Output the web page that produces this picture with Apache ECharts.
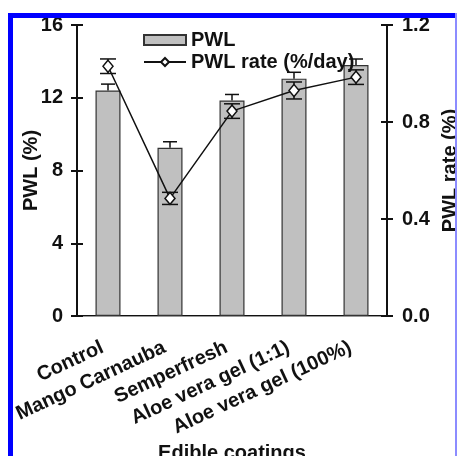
<!DOCTYPE html>
<html>
<head>
<meta charset="utf-8">
<script src="https://cdn.jsdelivr.net/npm/echarts@6/dist/echarts.min.js"></script>
<style>html,body{margin:0;padding:0;background:#fff;}#c{width:457px;height:456px;}</style>
</head>
<body>
<div id="c"></div>
<script>
var categories = ['Control', 'Mango Carnauba', 'Semperfresh', 'Aloe vera gel (1:1)', 'Aloe vera gel (100%)'];
var pwl = [12.4, 9.25, 11.85, 13.05, 13.8];
var pwlErr = [0.35, 0.33, 0.33, 0.35, 0.33];
var rate = [1.03, 0.485, 0.845, 0.93, 0.985];
var rateErr = [0.03, 0.025, 0.03, 0.035, 0.03];
var leftTicks = {min: 0, max: 16, interval: 4};
var rightTicks = {min: 0, max: 1.2, interval: 0.4};

var FONT = 'Liberation Sans, Arial, sans-serif';
var txt = {fontFamily: FONT, fontWeight: 'bold', fontSize: 20, color: '#111'};

function errItem(capHalf, upOnly) {
  return function (params, api) {
    var x = api.value(0), y = api.value(1), e = api.value(2);
    var top = api.coord([x, y + e]);
    var mid = api.coord([x, y]);
    var bot = api.coord([x, y - e]);
    var st = {stroke: '#111', lineWidth: 1.5};
    var ch = [
      {type: 'line', shape: {x1: top[0], y1: top[1], x2: upOnly ? mid[0] : bot[0], y2: upOnly ? mid[1] : bot[1]}, style: st},
      {type: 'line', shape: {x1: top[0] - capHalf, y1: top[1], x2: top[0] + capHalf, y2: top[1]}, style: st}
    ];
    if (!upOnly) ch.push({type: 'line', shape: {x1: bot[0] - capHalf, y1: bot[1], x2: bot[0] + capHalf, y2: bot[1]}, style: st});
    return {type: 'group', children: ch};
  };
}

var chart = echarts.init(document.getElementById('c'), null, {renderer: 'canvas'});
chart.setOption({
  animation: false,
  backgroundColor: '#fff',
  grid: {left: 77, right: 70, top: 25, bottom: 140, outerBoundsMode: 'none', containLabel: false},
  legend: {
    orient: 'vertical', left: 143, top: 30, itemWidth: 42, itemHeight: 10, itemGap: 2, padding: 0,
    data: [{name: 'PWL', icon: 'rect'}, {name: 'PWL rate (%/day)'}],
    textStyle: txt
  },
  xAxis: [
    {type: 'category', data: categories, position: 'bottom',
     axisLine: {lineStyle: {color: '#111', width: 2}},
     axisTick: {length: 6, lineStyle: {width: 2, color: '#111'}},
     axisLabel: Object.assign({rotate: 25, interval: 0, margin: 28, padding: [0, 6, 0, 0]}, txt),
     name: 'Edible coatings', nameLocation: 'middle', nameGap: 125, nameTextStyle: txt},
    {type: 'category', data: categories, position: 'bottom',
     axisLine: {show: false},
     axisTick: {inside: true, length: 6, lineStyle: {width: 2, color: '#111'}},
     axisLabel: {show: false}},
    {type: 'category', data: categories, position: 'top',
     axisLine: {lineStyle: {color: '#999', width: 1}},
     axisTick: {show: false}, axisLabel: {show: false}}
  ],
  yAxis: [
    {type: 'value', position: 'left', min: leftTicks.min, max: leftTicks.max, interval: leftTicks.interval,
     axisLine: {show: true, lineStyle: {color: '#111', width: 2}},
     axisTick: {show: true, length: 6, lineStyle: {width: 2, color: '#111'}},
     axisLabel: Object.assign({margin: 14}, txt),
     splitLine: {show: false},
     name: 'PWL (%)', nameLocation: 'middle', nameGap: 36, nameRotate: 90, nameMoveOverlap: false, nameTextStyle: txt},
    {type: 'value', position: 'right', min: rightTicks.min, max: rightTicks.max, interval: rightTicks.interval,
     axisLine: {show: true, lineStyle: {color: '#111', width: 2}},
     axisTick: {show: true, length: 6, lineStyle: {width: 2, color: '#111'}},
     axisLabel: Object.assign({margin: 15, formatter: function (v) { return v.toFixed(1); }}, txt),
     splitLine: {show: false},
     name: 'PWL rate (%)', nameLocation: 'middle', nameGap: 46, nameRotate: 90, nameTextStyle: txt},
    {type: 'value', position: 'left', min: leftTicks.min, max: leftTicks.max, interval: leftTicks.interval,
     axisLine: {show: false}, axisTick: {show: true, inside: true, length: 6, lineStyle: {width: 2, color: '#111'}},
     axisLabel: {show: false}, splitLine: {show: false}},
    {type: 'value', position: 'right', min: rightTicks.min, max: rightTicks.max, interval: rightTicks.interval,
     axisLine: {show: false}, axisTick: {show: true, inside: true, length: 6, lineStyle: {width: 2, color: '#111'}},
     axisLabel: {show: false}, splitLine: {show: false}}
  ],
  series: [
    {name: 'PWL', type: 'bar', data: pwl, barWidth: 25, yAxisIndex: 0, z: 2,
     itemStyle: {color: '#c0c0c0', borderColor: '#333', borderWidth: 1.2}},
    {name: 'pwlErr', type: 'custom', yAxisIndex: 0, z: 3,
     data: pwl.map(function (v, i) { return [i, v, pwlErr[i]]; }),
     encode: {x: 0, y: 1}, renderItem: errItem(7, true)},
    {name: 'rateErr', type: 'custom', yAxisIndex: 1, z: 4,
     data: rate.map(function (v, i) { return [i, v, rateErr[i]]; }),
     encode: {x: 0, y: 1}, renderItem: errItem(8, false)},
    {name: 'PWL rate (%/day)', type: 'line', data: rate, yAxisIndex: 1, z: 5,
     symbol: 'diamond', symbolSize: [10, 12],
     lineStyle: {color: '#111', width: 1.5},
     itemStyle: {color: '#fff', borderColor: '#111', borderWidth: 1.5}}
  ],
  graphic: [
    {type: 'line', z: 100, shape: {x1: 8, y1: 15.5, x2: 457, y2: 15.5}, style: {stroke: '#0000ff', lineWidth: 5}},
    {type: 'line', z: 100, shape: {x1: 10.5, y1: 13, x2: 10.5, y2: 456}, style: {stroke: '#0000ff', lineWidth: 5}},
    {type: 'line', z: 100, shape: {x1: 456, y1: 13, x2: 456, y2: 456}, style: {stroke: '#8c8cff', lineWidth: 2}}
  ]
});
</script>
</body>
</html>
